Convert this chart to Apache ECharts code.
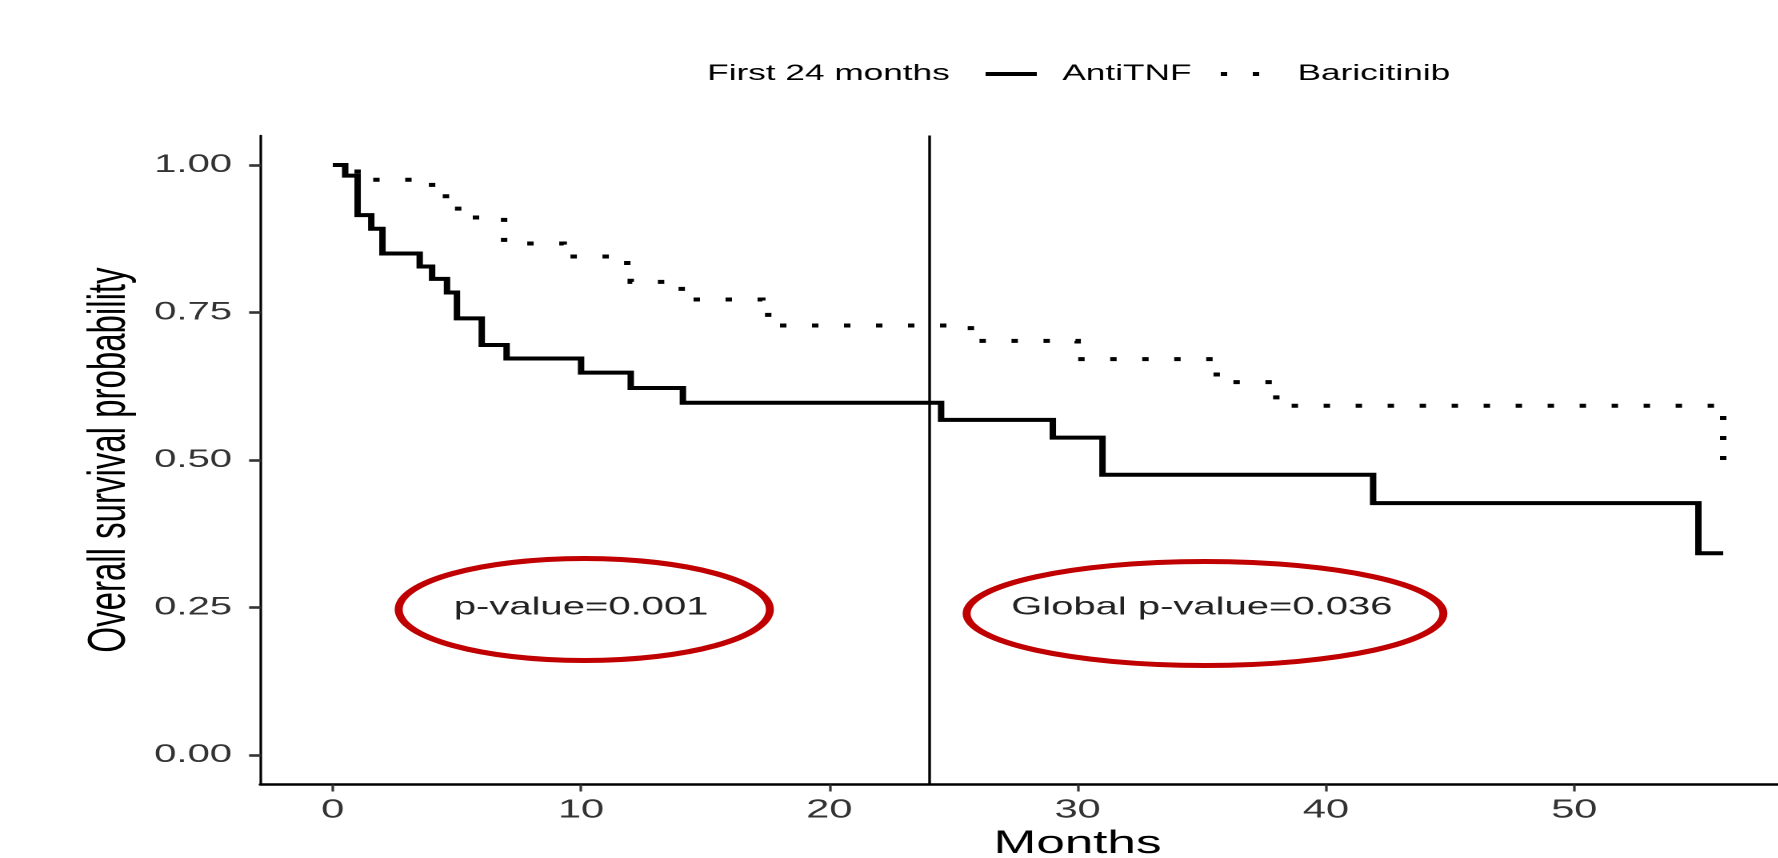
<!DOCTYPE html>
<html>
<head>
<meta charset="utf-8">
<script src="https://cdn.jsdelivr.net/npm/echarts@6/dist/echarts.min.js"></script>
<style>
html,body{margin:0;padding:0;background:#fff;overflow:hidden;}
#wrap{width:1778px;height:858px;overflow:hidden;position:relative;}
#c{width:1111.25px;height:858px;transform:scaleX(1.6);transform-origin:0 0;position:absolute;left:0;top:0;}
</style>
</head>
<body>
<div id="wrap"><div id="c"></div></div>
<script>
// ---- data ----
const antiTime = [0, 0.5, 1.0, 1.55, 2.0, 3.5, 4.0, 4.6, 5.0, 6.0, 7.0, 10.0, 12.0, 14.1, 24.5, 29.0, 31.0, 41.9, 55.0, 56.0];
const antiSurv = [1.0, 0.982, 0.915, 0.892, 0.850, 0.828, 0.807, 0.784, 0.740, 0.695, 0.672, 0.648, 0.622, 0.597, 0.568, 0.538, 0.475, 0.427, 0.342, 0.342];
const bariTime = [0, 1.0, 4.0, 5.05, 6.9, 9.3, 11.6, 12.0, 13.8, 14.3, 17.3, 18.0, 25.7, 30.0, 35.6, 38.0, 56.0];
const bariSurv = [1.0, 0.975, 0.947, 0.911, 0.867, 0.845, 0.834, 0.802, 0.790, 0.772, 0.746, 0.728, 0.702, 0.671, 0.632, 0.592, 0.493];
const xTicks = [0, 10, 20, 30, 40, 50];
const yTicks = [0, 0.25, 0.5, 0.75, 1.0];
const cutoffMonth = [24];
const seriesNames = ['AntiTNF', 'Baricitinib'];
const legendTitle = 'First 24 months';
const xTitle = 'Months';
const yTitle = 'Overall survival probability';
const annotX = [10, 35];
const annotY = [0.25, 0.25];
const annotText = ['p-value=0.001', 'Global p-value=0.036'];

const FONT = '"Liberation Sans", Arial, Helvetica, sans-serif';
const chart = echarts.init(document.getElementById('c'), null, {devicePixelRatio: 2});

// ellipse look: [rx, ry, dx, dy] in pre-stretch pixels
const ellipseLook = [[116, 51, 2, 2], [149, 52, 2, 6]];
const hidden = {color: 'rgba(0,0,0,0)', borderColor: 'rgba(0,0,0,0)', borderWidth: 0, opacity: 0};

const option = {
  animation: false,
  backgroundColor: '#fff',
  title: {
    text: legendTitle, left: 442, top: 63, padding: 0,
    textStyle: {fontFamily: FONT, fontSize: 22, fontWeight: 'normal', color: '#000'}
  },
  legend: [
    {
      data: [seriesNames[0]], left: 614, top: 63, padding: 0,
      itemWidth: 32, itemHeight: 22,
      itemStyle: hidden,
      lineStyle: {width: 4, cap: 'butt'},
      textStyle: {fontFamily: FONT, fontSize: 22, color: '#000', padding: [0, 0, 0, 11]}
    },
    {
      data: [seriesNames[1]], left: 761, top: 63, padding: 0,
      itemWidth: 24, itemHeight: 22,
      itemStyle: hidden,
      lineStyle: {width: 4, cap: 'butt'},
      textStyle: {fontFamily: FONT, fontSize: 22, color: '#000', padding: [0, 0, 0, 19]}
    }
  ],
  grid: {left: 163, right: 0, top: 135.5, bottom: 73.5, containLabel: false, outerBoundsMode: 'none'},
  xAxis: {
    type: 'value', min: -2.9, max: 58.19,
    axisLine: {show: true, onZero: false, lineStyle: {color: '#000', width: 2.6}},
    axisTick: {show: true, length: 7, customValues: xTicks, lineStyle: {color: '#333', width: 1.6}},
    axisLabel: {customValues: xTicks, margin: 13, color: '#333', fontFamily: FONT, fontSize: 26},
    splitLine: {show: false},
    name: xTitle, nameLocation: 'middle', nameGap: 43,
    nameTextStyle: {fontFamily: FONT, fontSize: 32, color: '#000', padding: [0, 0, 0, 73]}
  },
  yAxis: {
    type: 'value', min: -0.05, max: 1.05,
    axisLine: {show: true, onZero: false, lineStyle: {color: '#000', width: 1.6}},
    axisTick: {show: true, length: 7.3, customValues: yTicks, lineStyle: {color: '#333', width: 2.6}},
    axisLabel: {customValues: yTicks, formatter: v => v.toFixed(2), margin: 18, color: '#333', fontFamily: FONT, fontSize: 25},
    splitLine: {show: false},
    name: yTitle, nameLocation: 'middle', nameGap: 74, nameRotate: 90,
    nameTextStyle: {fontFamily: FONT, fontSize: 33, color: '#000'}
  },
  series: [
    {
      name: seriesNames[0], type: 'line', step: 'end', symbol: 'none',
      data: antiTime.map((t, i) => [t, antiSurv[i]]),
      lineStyle: {color: '#000', width: 4, type: 'solid', cap: 'butt', join: 'miter'},
      itemStyle: {color: '#000'},
      z: 3,
      markLine: {
        silent: true, symbol: 'none', label: {show: false},
        lineStyle: {color: '#000', width: 1.7, type: 'solid'},
        data: cutoffMonth.map(m => ({xAxis: m}))
      }
    },
    {
      name: seriesNames[1], type: 'line', step: 'end', symbol: 'none',
      data: bariTime.map((t, i) => [t, bariSurv[i]]),
      lineStyle: {color: '#000', width: 4, type: [4, 16], cap: 'butt', join: 'miter'},
      itemStyle: {color: '#000'},
      z: 3
    },
    {
      type: 'custom', silent: true, z: 5,
      data: annotX.map((x, i) => [x, annotY[i], i]),
      renderItem: function (params, api) {
        const c = api.coord([api.value(0), api.value(1)]);
        const i = api.value(2);
        const e = ellipseLook[i];
        return {
          type: 'group',
          children: [
            {
              type: 'ellipse',
              shape: {cx: c[0] + e[2], cy: c[1] + e[3], rx: e[0], ry: e[1]},
              style: {fill: 'none', stroke: '#C00000', lineWidth: 5}
            },
            {
              type: 'text', x: c[0], y: c[1],
              style: {text: annotText[i], fill: '#222', font: '25px ' + FONT, align: 'center', verticalAlign: 'middle'}
            }
          ]
        };
      }
    }
  ]
};
chart.setOption(option);
</script>
</body>
</html>
